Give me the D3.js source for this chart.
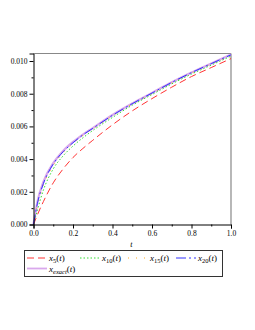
<!DOCTYPE html>
<html>
<head>
<script src="https://d3js.org/d3.v7.min.js"></script>
<style>
  html, body { margin: 0; padding: 0; background: #fff; }
  text { font-family: 'Liberation Serif', 'DejaVu Serif', serif; }
</style>
</head>
<body>
<div id="vis"></div>
<script>
// values (units of 1e-3)
var tVals   = [0, 0.02, 0.05, 0.1, 0.15, 0.2, 0.25, 0.3, 0.4, 0.5, 0.6, 0.7, 0.8, 0.9, 1.0];
var x5      = [0, 0.6, 1.4, 2.55, 3.4, 4.1, 4.65, 5.15, 6.1, 6.95, 7.7, 8.4, 9.05, 9.6, 10.15];
var x10     = [0, 0.9, 2.1, 3.4, 4.2, 4.8, 5.3, 5.75, 6.55, 7.3, 7.95, 8.6, 9.2, 9.75, 10.3];
var x15     = [0, 1.15, 2.4, 3.6, 4.4, 4.95, 5.45, 5.85, 6.65, 7.37, 8.02, 8.67, 9.27, 9.82, 10.36];
var x20     = [0, 1.3, 2.5, 3.7, 4.45, 5.0, 5.48, 5.88, 6.68, 7.39, 8.04, 8.69, 9.29, 9.84, 10.38];
var xExact  = [0, 1.4, 2.6, 3.75, 4.5, 5.05, 5.5, 5.9, 6.7, 7.4, 8.05, 8.7, 9.3, 9.85, 10.4];
var yTicks  = [0, 0.002, 0.004, 0.006, 0.008, 0.010];
var xTicks  = [0, 0.2, 0.4, 0.6, 0.8, 1.0];

var series = [
  {name: 'exact', vals: xExact, color: '#d9a8ec', dash: null, w: 2.2},
  {name: '5',  vals: x5,  color: '#ff3333', dash: '7,4', w: 1},
  {name: '10', vals: x10, color: '#33dd33', dash: '1.5,2', w: 1},
  {name: '15', vals: x15, color: '#ffaa22', dash: '1,7', w: 1},
  {name: '20', vals: x20, color: '#3333ff', dash: '10,3,2,3', w: 1}
];

var svg = d3.select('#vis').append('svg')
    .attr('width', 255).attr('height', 330);
svg.append('rect').attr('width', 255).attr('height', 330).attr('fill', '#fff');

var pLeft = 33.5, pRight = 231, pTop = 53.5, pBottom = 224.5;
var x = d3.scaleLinear().domain([0, 1]).range([pLeft, pRight]);
var y = d3.scaleLinear().domain([0, 0.01046]).range([pBottom, pTop]);

// frame
svg.append('line').attr('x1', pLeft).attr('x2', pRight).attr('y1', pTop).attr('y2', pTop)
    .attr('stroke', '#888').attr('stroke-width', 1.2);
svg.append('line').attr('x1', pRight).attr('x2', pRight).attr('y1', pTop).attr('y2', pBottom)
    .attr('stroke', '#888').attr('stroke-width', 1.2);

// curves
var line = d3.line().x(function(d) { return x(d[0]); }).y(function(d) { return y(d[1]); })
    .curve(d3.curveMonotoneX);
series.forEach(function(s) {
    var pts = tVals.map(function(t, i) { return [t, s.vals[i] / 1000]; });
    svg.append('path').attr('d', line(pts)).attr('fill', 'none')
        .attr('stroke', s.color).attr('stroke-width', s.w)
        .attr('stroke-dasharray', s.dash);
});

// axes
var yAxis = svg.append('g').attr('transform', 'translate(' + pLeft + ',0)')
    .call(d3.axisLeft(y).tickValues(yTicks).tickFormat(d3.format('.3f')).tickSize(4).tickPadding(2));
var xAxis = svg.append('g').attr('transform', 'translate(0,' + pBottom + ')')
    .call(d3.axisBottom(x).tickValues(xTicks).tickFormat(d3.format('.1f')).tickSize(4).tickPadding(2));
[yAxis, xAxis].forEach(function(a) {
    a.select('.domain').attr('stroke', '#000');
    a.selectAll('text').attr('font-size', 7.5).attr('font-family', "'Liberation Serif', serif").attr('fill', '#000');
});
// minor ticks
svg.append('g').attr('transform', 'translate(' + pLeft + ',0)')
    .call(d3.axisLeft(y).tickValues([0.001, 0.003, 0.005, 0.007, 0.009]).tickFormat('').tickSize(2))
    .select('.domain').remove();
svg.append('g').attr('transform', 'translate(0,' + pBottom + ')')
    .call(d3.axisBottom(x).tickValues([0.1, 0.3, 0.5, 0.7, 0.9]).tickFormat('').tickSize(2))
    .select('.domain').remove();

svg.append('text').attr('x', x(0.5) - 1).attr('y', 247).attr('font-size', 8)
    .attr('font-style', 'italic').attr('text-anchor', 'middle').text('t');

// legend
svg.append('rect').attr('x', 24.5).attr('y', 250.5).attr('width', 198).attr('height', 26)
    .attr('fill', 'none').attr('stroke', '#333').attr('stroke-width', 1);
var legendPos = [
  {s: series[1], x: 27, y: 258},
  {s: series[2], x: 80, y: 258},
  {s: series[3], x: 128, y: 258},
  {s: series[4], x: 176, y: 258},
  {s: series[0], x: 27, y: 268.5}
];
legendPos.forEach(function(p) {
    svg.append('line').attr('x1', p.x).attr('x2', p.x + 20).attr('y1', p.y).attr('y2', p.y)
        .attr('stroke', p.s.color).attr('stroke-width', p.s.w === 1 ? 1 : 1.8)
        .attr('stroke-dasharray', p.s.dash);
    var t = svg.append('text').attr('x', p.x + 22).attr('y', p.y + 3).attr('font-size', 9);
    t.append('tspan').attr('font-style', 'italic').text('x');
    t.append('tspan').attr('font-size', 6.5).attr('dy', 2.2).attr('font-style', p.s.name === 'exact' ? 'italic' : 'normal').text(p.s.name);
    t.append('tspan').attr('dy', -2.2).text('(');
    t.append('tspan').attr('font-style', 'italic').text('t');
    t.append('tspan').text(')');
});
</script>
</body>
</html>
